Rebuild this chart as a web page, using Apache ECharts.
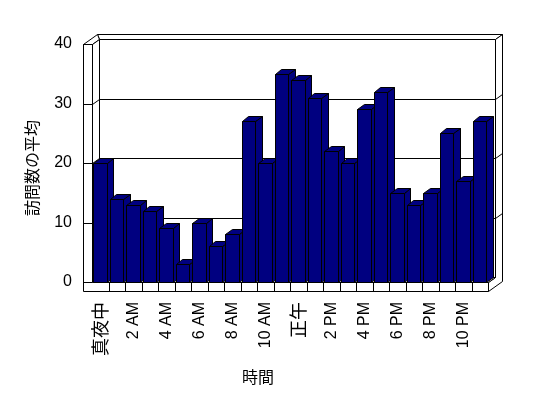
<!DOCTYPE html>
<html>
<head>
    <meta charset="utf-8">
    <title>訪問数の平均</title>
    <script src="https://cdn.jsdelivr.net/npm/echarts/dist/echarts.min.js"></script>
    <style>
        * { margin: 0; padding: 0; }
        body { background: #fff; }
    </style>
</head>
<body>
    <div id="main" style="width: 548px; height: 398px;"></div>
    <script type="text/javascript">
        // 時間ごとのカテゴリ
        var hours = ['真夜中', '1 AM', '2 AM', '3 AM', '4 AM', '5 AM', '6 AM', '7 AM', '8 AM', '9 AM', '10 AM', '11 AM',
            '正午', '1 PM', '2 PM', '3 PM', '4 PM', '5 PM', '6 PM', '7 PM', '8 PM', '9 PM', '10 PM', '11 PM'];
        // 訪問数の平均
        var visits = [20, 14, 13, 12, 9, 3, 10, 6, 8, 27, 20, 35,
            34, 31, 22, 20, 29, 32, 15, 13, 15, 25, 17, 27];
        // 縦軸の目盛
        var yTicks = [0, 10, 20, 30, 40];

        var depth = [6.5, -5];     // front plane -> back wall inner face
        var depthAll = [13.5, -10]; // front plane -> outside of back wall
        var wall = 9;               // thickness of left wall and floor

        function p(v) { return Math.round(v) + 0.5; }
        function pts(list) {
            return list.map(function (q) { return [p(q[0]), p(q[1])]; });
        }
        var faceStyle = { fill: '#fff', stroke: '#000', lineWidth: 1 };
        var lineStyle = { stroke: '#000', lineWidth: 1 };
        function poly(list, fill) {
            return { type: 'polygon', shape: { points: pts(list) },
                style: { fill: fill || '#fff', stroke: '#000', lineWidth: 1 } };
        }
        function line(a, b) {
            return { type: 'line', shape: { x1: p(a[0]), y1: p(a[1]), x2: p(b[0]), y2: p(b[1]) }, style: lineStyle };
        }

        function renderFrame(params, api) {
            var bw = api.size([1, 0])[0];
            var c0 = api.coord([0, yTicks[0]]);
            var L = c0[0] - bw / 2;
            var R = L + hours.length * bw;
            var B = c0[1];
            var T = api.coord([0, yTicks[yTicks.length - 1]])[1];
            var dx = depth[0], dy = depth[1], tx = depthAll[0], ty = depthAll[1];
            var kids = [];
            // back wall
            kids.push(poly([[L + dx, T + dy], [R + dx, T + dy], [R + dx, B + dy], [L + dx, B + dy]]));
            kids.push(poly([[L + dx, T + dy], [R + dx, T + dy], [R + tx, T + ty], [L - wall + tx, T + ty]]));
            kids.push(poly([[R + dx, T + dy], [R + tx, T + ty], [R + tx, B + wall + ty], [R, B + wall], [R, B], [R + dx, B + dy]]));
            // left wall
            kids.push(poly([[L - wall, T], [L, T], [L + dx, T + dy], [L - wall + tx, T + ty]]));
            kids.push(poly([[L, T], [L + dx, T + dy], [L + dx, B + dy], [L, B]]));
            // floor
            kids.push(poly([[L, B], [R, B], [R + dx, B + dy], [L + dx, B + dy]]));
            kids.push(poly([[L - wall, T], [L, T], [L, B], [R, B], [R, B + wall], [L - wall, B + wall]]));
            // grid lines
            yTicks.forEach(function (v) {
                var y = api.coord([0, v])[1];
                kids.push(line([L - wall, y], [L, y]));
                if (v > yTicks[0] && v < yTicks[yTicks.length - 1]) {
                    kids.push(line([L, y], [L + dx, y + dy]));
                    kids.push(line([L + dx, y + dy], [R + dx, y + dy]));
                    kids.push(line([R + dx, y + dy], [R + tx, y + ty]));
                }
            });
            for (var k = 1; k < hours.length; k++) {
                kids.push(line([L + k * bw, B], [L + k * bw, B + wall]));
            }
            return { type: 'group', children: kids };
        }

        function renderBar(params, api) {
            var i = api.value(0);
            var bw = api.size([1, 0])[0];
            var c0 = api.coord([i, 0]);
            var c1 = api.coord([i, api.value(1)]);
            var x0 = c0[0] - bw / 2 + bw * 0.08;
            var x1 = x0 + bw * 0.81;
            var y0 = c0[1], y1 = c1[1];
            var dx = depth[0], dy = depth[1];
            var fill = '#000080';
            return {
                type: 'group',
                children: [
                    poly([[x1, y1], [x1 + dx, y1 + dy], [x1 + dx, y0 + dy], [x1, y0]], fill),
                    poly([[x0, y1], [x0 + dx, y1 + dy], [x1 + dx, y1 + dy], [x1, y1]], fill),
                    poly([[x0, y1], [x1, y1], [x1, y0], [x0, y0]], fill)
                ]
            };
        }

        var barData = visits.map(function (v, i) { return [i, v]; });

        var myChart = echarts.init(document.getElementById('main'));
        var option = {
            backgroundColor: '#fff',
            animation: false,
            textStyle: { fontFamily: 'Liberation Sans, Arial, sans-serif', color: '#000' },
            grid: { left: 92, top: 44, width: 396, height: 238, containLabel: false },
            xAxis: {
                type: 'category',
                data: hours,
                axisLine: { show: false },
                axisTick: { show: false },
                splitLine: { show: false },
                axisLabel: {
                    interval: 1,
                    rotate: 90,
                    margin: 20,
                    fontSize: 16,
                    color: '#000',
                    fontFamily: 'Liberation Sans, Arial, sans-serif',
                    formatter: function (v) {
                        return /[\u3000-\u9fff]/.test(v) ? '{j|' + v + '}' : v;
                    },
                    rich: { j: { fontSize: 18, fontFamily: 'Noto Sans CJK JP', color: '#000' } }
                },
                name: '時間',
                nameLocation: 'middle',
                nameGap: 87,
                nameTextStyle: { fontSize: 16, color: '#000', fontFamily: 'Noto Sans CJK JP', padding: [0, 64, 0, 0] }
            },
            yAxis: {
                type: 'value',
                min: yTicks[0],
                max: yTicks[yTicks.length - 1],
                interval: yTicks[1] - yTicks[0],
                axisLine: { show: false },
                axisTick: { show: false },
                splitLine: { show: false },
                axisLabel: { margin: 20, fontSize: 16, color: '#000', fontFamily: 'Liberation Sans, Arial, sans-serif' },
                name: '訪問数の平均',
                nameLocation: 'middle',
                nameGap: 52,
                nameTextStyle: { fontSize: 16, color: '#000', fontFamily: 'Noto Sans CJK JP', padding: [0, 10, 0, 0] }
            },
            series: [
                {
                    type: 'custom',
                    name: 'frame',
                    z: 1,
                    silent: true,
                    clip: false,
                    data: [[0, 0]],
                    renderItem: renderFrame
                },
                {
                    type: 'custom',
                    name: '訪問数の平均',
                    z: 2,
                    clip: false,
                    data: barData,
                    renderItem: renderBar
                }
            ]
        };
        myChart.setOption(option);
    </script>
</body>
</html>
